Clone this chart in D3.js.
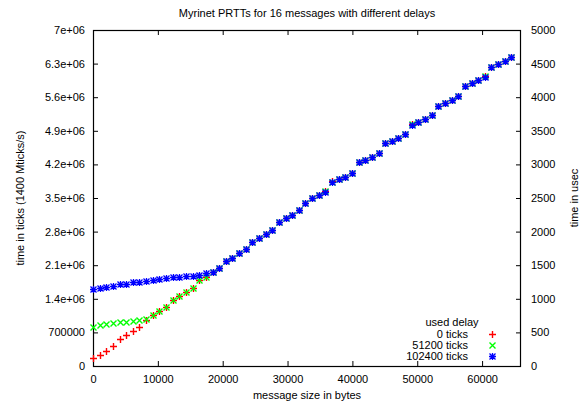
<!DOCTYPE html>
<html>
<head>
<meta charset="utf-8">
<script src="https://cdn.jsdelivr.net/npm/d3@7"></script>
<style>
  html, body { margin: 0; padding: 0; background: #fff; }
  svg text { font-family: "Liberation Sans", Arial, Helvetica, sans-serif; font-size: 11px; fill: #000; }
</style>
</head>
<body>
<svg id="chart" width="587" height="405"></svg>
<script>
// Message sizes in bytes (one sample per KiB)
const sizes = [
  0, 1024, 2048, 3072, 4096, 5120, 6144, 7168, 8192, 9216, 10240, 11264, 12288, 13312, 14336, 15360,
  16384, 17408, 18432, 19456, 20480, 21504, 22528, 23552, 24576, 25600, 26624, 27648, 28672, 29696, 30720, 31744,
  32768, 33792, 34816, 35840, 36864, 37888, 38912, 39936, 40960, 41984, 43008, 44032, 45056, 46080, 47104, 48128,
  49152, 50176, 51200, 52224, 53248, 54272, 55296, 56320, 57344, 58368, 59392, 60416, 61440, 62464, 63488, 64512
];

// Round-trip times in ticks, one series per delay setting
const delay0 = [
  177000, 223000, 319000, 410000, 556000, 640000, 729000, 812000, 952000, 1062000, 1142000, 1225000, 1383000, 1465000, 1545000, 1625000,
  1785000, 1854000, 1956000, 2046000, 2188000, 2260000, 2350000, 2442000, 2585000, 2669000, 2748000, 2836000, 3010000, 3092000, 3148000, 3247000,
  3405000, 3496000, 3559000, 3638000, 3846000, 3892000, 3946000, 4030000, 4254000, 4295000, 4362000, 4434000, 4650000, 4690000, 4758000, 4830000,
  5036000, 5076000, 5154000, 5226000, 5420000, 5486000, 5550000, 5628000, 5826000, 5892000, 5955000, 6034000, 6226000, 6290000, 6362000, 6434000
];
const delay51200 = [
  815000, 845000, 870000, 892000, 915000, 922000, 945000, 968000, 988000, 1062000, 1144000, 1226000, 1383000, 1466000, 1546000, 1626000,
  1785000, 1854000, 1962000, 2043000, 2183000, 2257000, 2349000, 2439000, 2579000, 2668000, 2745000, 2834000, 3008000, 3091000, 3147000, 3245000,
  3403000, 3495000, 3557000, 3636000, 3842000, 3891000, 3945000, 4028000, 4251000, 4293000, 4361000, 4432000, 4647000, 4689000, 4757000, 4828000,
  5033000, 5074000, 5153000, 5224000, 5418000, 5484000, 5549000, 5626000, 5824000, 5891000, 5953000, 6032000, 6224000, 6289000, 6361000, 6432000
];
const delay102400 = [
  1598000, 1625000, 1652000, 1673000, 1702000, 1715000, 1744000, 1756000, 1777000, 1792000, 1819000, 1823000, 1854000, 1860000, 1881000, 1885000,
  1902000, 1931000, 1958000, 2042000, 2181000, 2256000, 2348000, 2438000, 2577000, 2667000, 2744000, 2833000, 3006000, 3090000, 3146000, 3244000,
  3402000, 3494000, 3556000, 3635000, 3840000, 3890000, 3944000, 4027000, 4250000, 4292000, 4360000, 4431000, 4646000, 4688000, 4756000, 4827000,
  5031000, 5073000, 5152000, 5223000, 5417000, 5483000, 5548000, 5625000, 5823000, 5890000, 5952000, 6031000, 6223000, 6288000, 6360000, 6431000
];

const seriesNames = ["0 ticks", "51200 ticks", "102400 ticks"];
const seriesColors = ["#ff0000", "#00ff00", "#0000ff"];
const seriesShapes = ["plus", "cross", "star"];

const xTicks = [0, 10000, 20000, 30000, 40000, 50000, 60000];
const yTicks = [0, 700000, 1400000, 2100000, 2800000, 3500000, 4200000, 4900000, 5600000, 6300000, 7000000];
const yTickLabels = ["0", "700000", "1.4e+06", "2.1e+06", "2.8e+06", "3.5e+06", "4.2e+06", "4.9e+06", "5.6e+06", "6.3e+06", "7e+06"];
const y2Ticks = [0, 500, 1000, 1500, 2000, 2500, 3000, 3500, 4000, 4500, 5000];

const titleText = "Myrinet PRTTs for 16 messages with different delays";
const xLabel = "message size in bytes";
const yLabel = "time in ticks (1400 Mticks/s)";
const y2Label = "time in usec";
const keyTitle = "used delay";

const svg = d3.select("#chart");
const L = 93, R = 521, T = 30, B = 366;

const x = d3.scaleLinear().domain([0, 66000]).range([L, R]);
const y = d3.scaleLinear().domain([0, 7000000]).range([B, T]);
const y2 = d3.scaleLinear().domain([0, 5000]).range([B, T]);

// Axes with inward ticks on all four sides
const tk = 5;
const gx = svg.append("g").attr("transform", `translate(0,${B})`)
  .call(d3.axisBottom(x).tickValues(xTicks).tickSize(-tk).tickPadding(9).tickFormat(d3.format("d")));
const gxt = svg.append("g").attr("transform", `translate(0,${T})`)
  .call(d3.axisTop(x).tickValues(xTicks).tickSize(-tk).tickFormat(""));
const gy = svg.append("g").attr("transform", `translate(${L},0)`)
  .call(d3.axisLeft(y).tickValues(yTicks).tickSize(-tk).tickPadding(8).tickFormat((d, i) => yTickLabels[i]));
const gy2 = svg.append("g").attr("transform", `translate(${R},0)`)
  .call(d3.axisRight(y2).tickValues(y2Ticks).tickSize(-tk).tickPadding(10).tickFormat(d3.format("d")));

[gx, gxt, gy, gy2].forEach(g => {
  g.select(".domain").remove();
  g.selectAll("line").attr("stroke", "#000").attr("stroke-width", 1);
  g.selectAll("text").attr("font-family", null).attr("font-size", null).attr("fill", "#000");
});

// Plot border
svg.append("rect")
  .attr("x", L + 0.5).attr("y", T + 0.5)
  .attr("width", R - L - 1).attr("height", B - T)
  .attr("fill", "none").attr("stroke", "#000").attr("stroke-width", 1.2);

// Titles and axis labels
svg.append("text").attr("x", (L + R) / 2).attr("y", 17).attr("text-anchor", "middle").text(titleText);
svg.append("text").attr("x", (L + R) / 2).attr("y", 399).attr("text-anchor", "middle").text(xLabel);
svg.append("text").attr("transform", `translate(24,${(T + B) / 2}) rotate(-90)`).attr("text-anchor", "middle").text(yLabel);
svg.append("text").attr("transform", `translate(578,${(T + B) / 2}) rotate(-90)`).attr("text-anchor", "middle").text(y2Label);

// Point marker paths, snapped to pixel centres so the strokes stay crisp
const hs = 3.5;
function markerPath(shape, px, py) {
  const cx = Math.round(px) + 0.5, cy = Math.round(py) + 0.5;
  const p = d3.path();
  if (shape === "plus" || shape === "star") {
    p.moveTo(cx - hs, cy); p.lineTo(cx + hs, cy);
    p.moveTo(cx, cy - hs); p.lineTo(cx, cy + hs);
  }
  if (shape === "cross" || shape === "star") {
    const h = 3;
    p.moveTo(cx - h, cy - h); p.lineTo(cx + h, cy + h);
    p.moveTo(cx - h, cy + h); p.lineTo(cx + h, cy - h);
  }
  return p.toString();
}
const markerWidth = [1.4, 1.4, 1.3];

const allSeries = [delay0, delay51200, delay102400];
allSeries.forEach((vals, si) => {
  svg.append("g").selectAll("path")
    .data(sizes.map((s, i) => [s, vals[i]]))
    .join("path")
    .attr("d", d => markerPath(seriesShapes[si], x(d[0]), y(d[1])))
    .attr("fill", "none")
    .attr("stroke", seriesColors[si])
    .attr("stroke-width", markerWidth[si]);
});

// Key
const key = svg.append("g");
key.append("text").attr("x", 452).attr("y", 326).attr("text-anchor", "middle").text(keyTitle);
const keyRows = [333.5, 345, 356.3];
seriesNames.forEach((name, si) => {
  key.append("text").attr("x", 468).attr("y", keyRows[si] + 4).attr("text-anchor", "end").text(name);
  key.append("path").attr("d", markerPath(seriesShapes[si], 491.5, keyRows[si]))
    .attr("fill", "none").attr("stroke", seriesColors[si]).attr("stroke-width", markerWidth[si]);
});
</script>
</body>
</html>
